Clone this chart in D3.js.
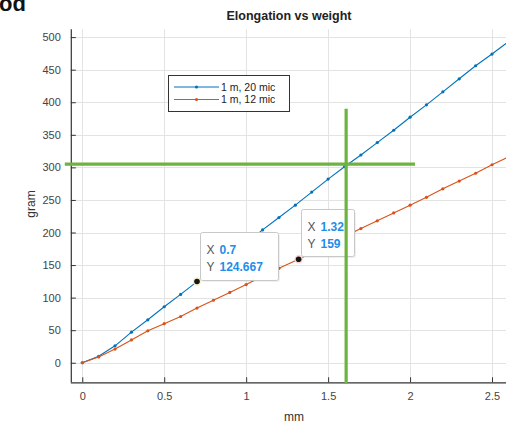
<!DOCTYPE html>
<html>
<head>
<meta charset="utf-8">
<script src="https://cdn.jsdelivr.net/npm/d3@7"></script>
<style>
  html, body { margin: 0; padding: 0; background: #fff; }
  svg { display: block; font-family: "Liberation Sans", Arial, sans-serif; }
</style>
</head>
<body>
<svg id="chart" width="506" height="426"></svg>
<script>
// Elongation (mm) against load (gram) for two wire samples
const xBlue = [0, 0.1, 0.2, 0.3, 0.4, 0.5, 0.6, 0.7, 0.8, 0.9, 1.0, 1.1, 1.2, 1.3,
               1.4, 1.5, 1.6, 1.7, 1.8, 1.9, 2.0, 2.1, 2.2, 2.3, 2.4, 2.5, 2.6];
const yBlue = [0, 10, 26, 47, 66, 86, 105, 124.667, 144, 164, 184, 204, 223, 242,
               262, 282, 301, 319, 338, 357, 377, 396, 416, 436, 456, 474, 493];
const xRed  = [0, 0.1, 0.2, 0.3, 0.4, 0.5, 0.6, 0.7, 0.8, 0.9, 1.0, 1.1, 1.2, 1.32,
               1.4, 1.5, 1.6, 1.7, 1.8, 1.9, 2.0, 2.1, 2.2, 2.3, 2.4, 2.5, 2.6];
const yRed  = [0, 9, 21, 35, 49, 60, 71, 84, 96, 108, 120, 133, 145, 159,
               169, 181, 194, 206, 218, 230, 242, 254, 267, 279, 291, 304, 316];

const seriesNames = ["1 m, 20 mic", "1 m, 12 mic"];
const seriesColors = ["#0072BD", "#D95319"];

const xTicks = [0, 0.5, 1, 1.5, 2, 2.5];
const yTicks = [0, 50, 100, 150, 200, 250, 300, 350, 400, 450, 500];

// data tips: [x, y, series index]
const tipX = [0.7, 1.32];
const tipY = [124.667, 159];
const tipSeries = [0, 1];

// reference cross-hair marking the operating point
const markX = 1.61;
const markY = 305;

const svg = d3.select("#chart");

const x = d3.scaleLinear().domain([-0.07, 2.6]).range([70.8, 508.4]);
const y = d3.scaleLinear().domain([-30, 512]).range([382.3, 29.3]);

const plotL = x.range()[0], plotR = x.range()[1];
const plotT = y.range()[1], plotB = y.range()[0];

// leftover heading fragment at the top edge
svg.append("text").attr("x", -1).attr("y", 11)
  .attr("font-size", 22).attr("font-weight", "bold").attr("fill", "#111")
  .text("od");

// title
svg.append("text").attr("x", 289).attr("y", 20)
  .attr("text-anchor", "middle").attr("font-size", 12.5).attr("font-weight", "bold")
  .attr("fill", "#222").text("Elongation vs weight");

// grid
const grid = svg.append("g").attr("stroke", "#e3e3e3").attr("stroke-width", 1);
grid.selectAll("line.gx").data(xTicks).join("line")
  .attr("x1", d => Math.round(x(d)) + 0.5).attr("x2", d => Math.round(x(d)) + 0.5)
  .attr("y1", plotT).attr("y2", plotB);
grid.selectAll("line.gy").data(yTicks).join("line")
  .attr("y1", d => Math.round(y(d)) + 0.5).attr("y2", d => Math.round(y(d)) + 0.5)
  .attr("x1", plotL).attr("x2", plotR);

// axes (ticks pointing inward)
const xAxis = d3.axisBottom(x).tickValues(xTicks).tickSize(-5).tickPadding(10)
  .tickFormat(d => d3.format("")(d));
const yAxis = d3.axisLeft(y).tickValues(yTicks).tickSize(-5).tickPadding(10);

const gx = svg.append("g").attr("transform", `translate(0,${plotB})`).call(xAxis);
const gy = svg.append("g").attr("transform", `translate(${plotL},0)`).call(yAxis);
[gx, gy].forEach(g => {
  g.select(".domain").attr("stroke", "#333").attr("stroke-width", 1.2);
  g.selectAll(".tick line").attr("stroke", "#333");
  g.selectAll(".tick text").attr("fill", "#444").attr("font-size", 11)
    .attr("font-family", "Liberation Sans, Arial, sans-serif");
});
gy.select(".domain").attr("d", `M0.5,${plotT}V${plotB}`);
gx.select(".domain").attr("d", `M${plotL},0.5H${plotR}`);

// axis labels
svg.append("text").attr("x", 294).attr("y", 421).attr("text-anchor", "middle")
  .attr("font-size", 12).attr("fill", "#333").text("mm");
svg.append("text").attr("transform", "translate(35,204) rotate(-90)")
  .attr("text-anchor", "middle").attr("font-size", 12).attr("fill", "#333").text("gram");

// series
const xs = [xBlue, xRed], ys = [yBlue, yRed];
const line = d3.line().x(d => x(d[0])).y(d => y(d[1]));
const plot = svg.append("g");
xs.forEach((xv, i) => {
  const pts = xv.map((v, k) => [v, ys[i][k]]);
  plot.append("path").datum(pts).attr("d", line)
    .attr("fill", "none").attr("stroke", seriesColors[i]).attr("stroke-width", 1.1);
  plot.selectAll(null).data(pts).join("circle")
    .attr("cx", d => x(d[0])).attr("cy", d => y(d[1])).attr("r", 1.6)
    .attr("fill", seriesColors[i]);
});

// legend
const leg = svg.append("g");
leg.append("rect").attr("x", 168.5).attr("y", 75.5).attr("width", 121).attr("height", 36)
  .attr("fill", "#fff").attr("stroke", "#333").attr("stroke-width", 1);
seriesNames.forEach((name, i) => {
  const ly = 87 + i * 12.5;
  leg.append("line").attr("x1", 174).attr("x2", 219).attr("y1", ly).attr("y2", ly)
    .attr("stroke", seriesColors[i]).attr("stroke-width", 1.1);
  leg.append("circle").attr("cx", 196.5).attr("cy", ly).attr("r", 1.6).attr("fill", seriesColors[i]);
  leg.append("text").attr("x", 221).attr("y", ly + 3.5).attr("font-size", 10.5)
    .attr("fill", "#222").text(name);
});

// data tips
const tipBoxes = [
  { dx: 3, dy: -50, w: 78, h: 48 },
  { dx: 2, dy: -50, w: 53, h: 47 }
];
const haloColors = ["#f5f0c8", "#f6d6d6"];
tipX.forEach((tx, i) => {
  const px = x(tx), py = y(tipY[i]);
  const b = tipBoxes[i];
  const g = svg.append("g");
  const bx = Math.round(px + b.dx) + 0.5, by = Math.round(py + b.dy) + 0.5;
  g.append("rect").attr("x", bx + 1.5).attr("y", by + 1.5).attr("width", b.w).attr("height", b.h)
    .attr("fill", "#000").attr("opacity", 0.06).attr("rx", 2);
  g.append("rect").attr("x", bx).attr("y", by).attr("width", b.w).attr("height", b.h)
    .attr("fill", "#fff").attr("stroke", "#c8c8c8").attr("rx", 2);
  const rows = [["X", String(tx)], ["Y", String(tipY[i])]];
  rows.forEach((r, k) => {
    const t = g.append("text").attr("x", bx + 6).attr("y", by + 21 + k * 17)
      .attr("font-size", 12);
    t.append("tspan").attr("fill", "#555").text(r[0]);
    t.append("tspan").attr("dx", 5).attr("fill", "#1e8ee8").attr("font-weight", "bold").text(r[1]);
  });
  g.append("circle").attr("cx", px).attr("cy", py).attr("r", 4.2).attr("fill", haloColors[i]);
  g.append("circle").attr("cx", px).attr("cy", py).attr("r", 2.8).attr("fill", "#151515");
});

// cross-hair
const green = "#6db33f";
svg.append("line").attr("x1", x(markX)).attr("x2", x(markX))
  .attr("y1", y(390)).attr("y2", plotB + 1)
  .attr("stroke", green).attr("stroke-width", 3.2);
svg.append("line").attr("x1", plotL - 6).attr("x2", x(2.03))
  .attr("y1", y(markY)).attr("y2", y(markY))
  .attr("stroke", green).attr("stroke-width", 3.2);
</script>
</body>
</html>
